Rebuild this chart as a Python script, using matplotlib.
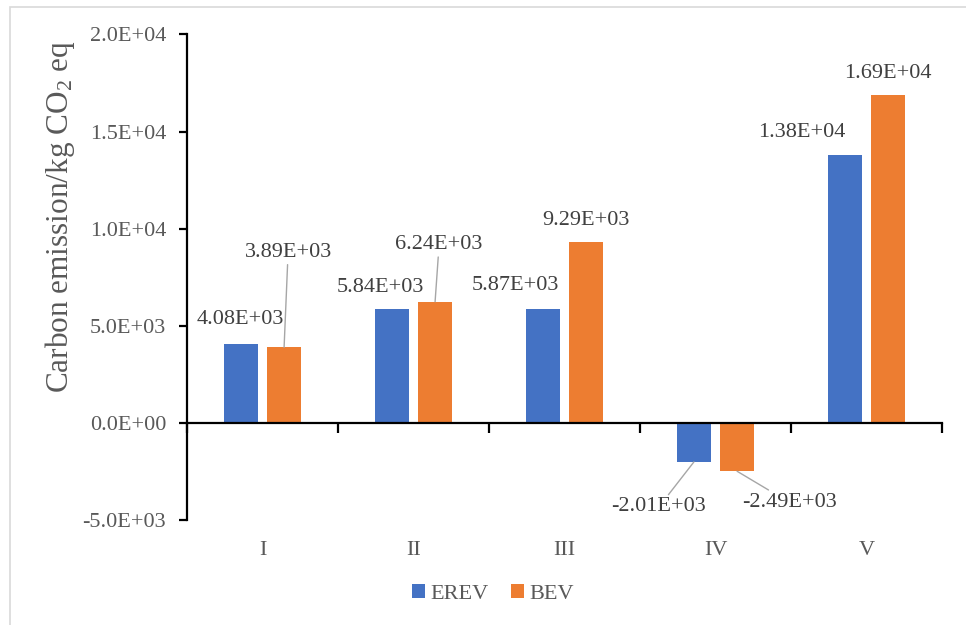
import matplotlib
matplotlib.use('Agg')
import matplotlib.pyplot as plt
from matplotlib.patches import Rectangle
import numpy as np

categories = ['I', 'II', 'III', 'IV', 'V']
erev = [4080, 5840, 5870, -2010, 13800]
bev = [3890, 6240, 9290, -2490, 16900]
erev_labels = ['4.08E+03', '5.84E+03', '5.87E+03', '-2.01E+03', '1.38E+04']
bev_labels = ['3.89E+03', '6.24E+03', '9.29E+03', '-2.49E+03', '1.69E+04']

# label placement (pixels from bar end) and whether a leader line is drawn
erev_offsets = [(-1, 24), (-12, 22), (-28, 23), (-35, -45), (-43, 22)]
bev_offsets = [(4, 95), (4, 57), (0, 22), (52, -31), (0, 21)]
erev_leader = [False, False, False, True, False]
bev_leader = [True, True, False, True, False]

blue = '#4472C4'
orange = '#ED7D31'
txt = '#595959'
lbl = '#404040'

plt.rcParams['font.family'] = ['Liberation Serif', 'DejaVu Serif']
plt.rcParams['mathtext.fontset'] = 'custom'
plt.rcParams['mathtext.rm'] = 'Liberation Serif'
plt.rcParams['mathtext.it'] = 'Liberation Serif:italic'

fig = plt.figure(figsize=(9.66, 6.25), dpi=100)
fig.patches.append(Rectangle((10 / 966, -0.1), 1.2, 1.1 - 7 / 625,
                             transform=fig.transFigure, fill=False,
                             edgecolor='#D9D9D9', linewidth=1.2))
ax = fig.add_axes([187 / 966, 1 - 520 / 625, 755 / 966, 485.5 / 625])

x = np.arange(len(categories))
w = 0.222
off = 0.143
b1 = ax.bar(x - off, erev, w, color=blue, label='EREV')
b2 = ax.bar(x + off, bev, w, color=orange, label='BEV')

ax.set_xlim(-0.5, len(categories) - 0.5)
ax.set_ylim(-5000, 20000)
ax.set_yticks(np.arange(-5000, 20001, 5000))
ax.set_yticklabels(['%.1E' % v for v in np.arange(-5000, 20001, 5000)])

for s in ['top', 'right']:
    ax.spines[s].set_visible(False)
ax.spines['bottom'].set_position(('data', 0))
ax.spines['left'].set_linewidth(1.6)
ax.spines['bottom'].set_linewidth(1.6)
ax.tick_params(axis='y', direction='out', length=6, width=1.6,
               labelsize=16, labelcolor=txt, pad=9)
ax.set_xticks(np.arange(-0.5, len(categories)), minor=False)
ax.set_xticklabels([])
ax.tick_params(axis='x', direction='out', length=7, width=1.6)

# category names sit below the plot, not on the zero line
sec = ax.secondary_xaxis('bottom')
sec.set_xticks(x)
sec.set_xticklabels(categories)
sec.spines['bottom'].set_visible(False)
sec.tick_params(length=0, labelsize=16, labelcolor=txt, pad=15)

ax.set_ylabel('Carbon emission/kg CO$_2$ eq', fontsize=22.5, color=txt)
ax.yaxis.set_label_coords(-0.146, 0.624)

def put_labels(bars, vals, texts, offsets, leaders):
    for bar, v, t, (dx, dy), lead in zip(bars, vals, texts, offsets, leaders):
        xc = bar.get_x() + bar.get_width() / 2
        kw = dict(xy=(xc, v), xytext=(dx, dy), textcoords='offset pixels',
                  ha='center', va='center', fontsize=16, color=lbl)
        if lead:
            kw['arrowprops'] = dict(arrowstyle='-', color='#A6A6A6', lw=1.0,
                                    shrinkA=0, shrinkB=0)
        ax.annotate(t, **kw)

put_labels(b1, erev, erev_labels, erev_offsets, erev_leader)
put_labels(b2, bev, bev_labels, bev_offsets, bev_leader)

fig.legend(handles=[b1, b2], loc='center', bbox_to_anchor=(493 / 966, 1 - 594 / 625),
           ncol=2, frameon=False, fontsize=16, labelcolor=txt,
           handlelength=0.6, handleheight=0.6, handletextpad=0.25,
           columnspacing=1.0)

fig.savefig('out.png', dpi=100)
